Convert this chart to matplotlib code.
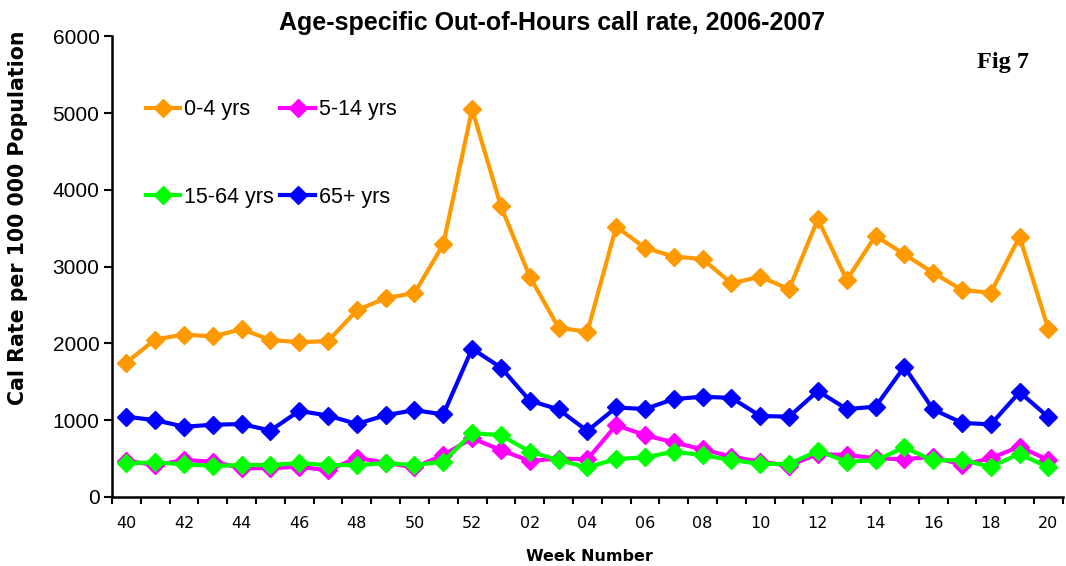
import numpy as np
import matplotlib.pyplot as plt

weeks = ["40", "41", "42", "43", "44", "45", "46", "47", "48", "49", "50", "51", "52",
         "01", "02", "03", "04", "05", "06", "07", "08", "09", "10", "11", "12",
         "13", "14", "15", "16", "17", "18", "19", "20"]

age_0_4 = [1750, 2050, 2115, 2090, 2185, 2045, 2015, 2030, 2430, 2590, 2655, 3290, 5050,
           3785, 2870, 2205, 2150, 3520, 3245, 3130, 3100, 2780, 2870, 2705, 3620,
           2825, 3400, 3160, 2920, 2695, 2660, 3390, 2185]
age_5_14 = [470, 415, 480, 460, 375, 375, 395, 345, 510, 445, 385, 545, 765,
            610, 470, 500, 490, 935, 805, 710, 620, 525, 460, 405, 560,
            545, 505, 490, 525, 415, 505, 655, 480]
age_15_64 = [440, 450, 425, 405, 415, 415, 440, 415, 415, 440, 415, 460, 830,
             805, 590, 480, 385, 495, 515, 590, 545, 480, 430, 430, 600,
             460, 475, 645, 475, 480, 395, 560, 385]
age_65p = [1045, 1000, 915, 940, 950, 865, 1120, 1060, 950, 1065, 1130, 1075, 1930,
           1685, 1255, 1140, 860, 1165, 1145, 1275, 1305, 1290, 1055, 1045, 1380,
           1145, 1175, 1695, 1140, 965, 945, 1365, 1040]

series = [("0-4 yrs", age_0_4, "#FF9900"),
          ("5-14 yrs", age_5_14, "#FF00FF"),
          ("15-64 yrs", age_15_64, "#00FF00"),
          ("65+ yrs", age_65p, "#0000FF")]

fig = plt.figure(figsize=(10.66, 5.66), dpi=100)
ax = fig.add_axes([0.105, 0.122, 0.892, 0.814])

x = np.arange(len(weeks))
handles = {}
for name, vals, col in series:
    h, = ax.plot(x, vals, color=col, lw=3, marker="D", ms=9, label=name)
    handles[name] = h

ax.set_xlim(-0.5, len(weeks) - 0.5)
ax.set_ylim(0, 6000)
ax.set_yticks(np.arange(0, 6001, 1000))
ax.tick_params(axis="y", direction="out", length=6, width=1.5, labelsize=15, pad=3)
for t in ax.get_yticklabels():
    t.set_family("Liberation Sans")

ax.set_xticks(x[::2])
ax.set_xticklabels(weeks[::2], fontsize=11.5)
ax.tick_params(axis="x", length=0, pad=14)
ax.set_xticks(np.arange(-0.5, len(weeks)), minor=True)
ax.tick_params(axis="x", which="minor", direction="out", length=5, width=1.5)

for s in ["top", "right"]:
    ax.spines[s].set_visible(False)
for s in ["left", "bottom"]:
    ax.spines[s].set_linewidth(1.8)

order = ["0-4 yrs", "15-64 yrs", "5-14 yrs", "65+ yrs"]
ax.legend([handles[k] for k in order], order, ncol=2, frameon=False,
          loc="upper left", bbox_to_anchor=(0.024, 0.887), borderpad=0,
          prop={"family": "Liberation Sans", "size": 15.5},
          labelspacing=3.1, columnspacing=0.3, handlelength=1.6, handletextpad=0.2)

fig.text(0.518, 0.960, "Age-specific Out-of-Hours call rate, 2006-2007", ha="center", va="center",
         fontsize=18, fontweight="bold", family="Liberation Sans")
fig.text(0.941, 0.89, "Fig 7", ha="center", va="center", fontsize=17.5, fontweight="bold",
         family="Liberation Serif")
fig.text(0.017, 0.615, "Cal Rate per 100 000 Population", rotation=90, ha="center", va="center",
         fontsize=14.8, fontweight="bold")
fig.text(0.553, 0.016, "Week Number", ha="center", va="center", fontsize=11.5, fontweight="bold")

fig.savefig("out.png", dpi=100)
